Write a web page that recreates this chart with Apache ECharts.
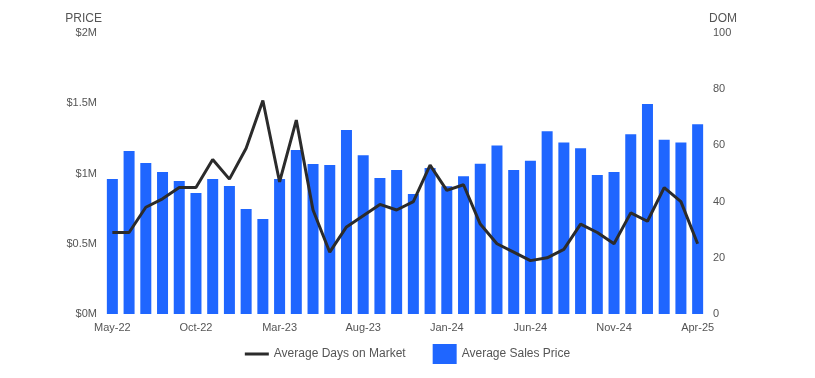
<!DOCTYPE html>
<html><head><meta charset="utf-8">
<script src="https://cdn.jsdelivr.net/npm/echarts@6/dist/echarts.min.js"></script>
<style>html,body{margin:0;padding:0;background:#fff}#c{width:815px;height:378px}</style>
</head><body><div id="c"></div>
<script>
const categories = ["May-22","Jun-22","Jul-22","Aug-22","Sep-22","Oct-22","Nov-22","Dec-22",
"Jan-23","Feb-23","Mar-23","Apr-23","May-23","Jun-23","Jul-23","Aug-23","Sep-23","Oct-23","Nov-23","Dec-23",
"Jan-24","Feb-24","Mar-24","Apr-24","May-24","Jun-24","Jul-24","Aug-24","Sep-24","Oct-24","Nov-24","Dec-24",
"Jan-25","Feb-25","Mar-25","Apr-25"];
const avgSalesPrice = [961000,1160000,1075000,1010000,947000,861000,961000,911000,
747000,676000,961000,1167000,1068000,1060000,1310000,1130000,968000,1025000,854000,1040000,
910000,980000,1070000,1200000,1025000,1090000,1300000,1220000,1180000,990000,1010000,1280000,
1495000,1240000,1220000,1350000];
const avgDaysOnMarket = [29,29,38,41,45,45,55,48,
59,76,47,69,37,22,31,35,39,37,40,53,
44,46,32,25,22,19,20,23,32,29,25,36,
33,45,40,25];
const priceTicks = {0:"$0M",500000:"$0.5M",1000000:"$1M",1500000:"$1.5M",2000000:"$2M"};

const chart = echarts.init(document.getElementById('c'));
const FF = 'Liberation Sans, Arial, sans-serif';
const small = {color:'#555', fontFamily:FF, fontSize:11};
const mid = {color:'#555', fontFamily:FF, fontSize:12};
const lineIcon = 'path://M0,0L0.05,0L0.05,0.05Z M0,8.5L24,8.5L24,11.5L0,11.5Z M24,20L23.95,20L23.95,19.95Z';
chart.setOption({
  animation:false,
  grid:{left:104, right:109, top:33, bottom:64},
  legend:{
    bottom:9, left:'center', itemGap:27, itemWidth:24, itemHeight:20,
    textStyle:mid,
    data:[{name:'Average Days on Market', icon:lineIcon},{name:'Average Sales Price', icon:'rect'}]
  },
  xAxis:{
    type:'category', data:categories,
    axisLine:{show:false}, axisTick:{show:false},
    axisLabel:Object.assign({interval:4, margin:8}, small)
  },
  yAxis:[{
    type:'value', min:0, max:2000000, interval:500000,
    name:'PRICE', nameLocation:'end', nameGap:8,
    nameTextStyle:Object.assign({}, mid, {align:'right', padding:[0,2,0,0]}),
    splitLine:{show:false}, axisLine:{show:false}, axisTick:{show:false},
    axisLabel:Object.assign({formatter:v=>priceTicks[v], margin:7}, small)
  },{
    type:'value', min:0, max:100, interval:20,
    name:'DOM', nameLocation:'end', nameGap:8,
    nameTextStyle:Object.assign({}, mid, {align:'left', padding:[0,0,0,3]}),
    splitLine:{show:false}, axisLine:{show:false}, axisTick:{show:false},
    axisLabel:Object.assign({margin:7}, small)
  }],
  series:[{
    name:'Average Sales Price', type:'bar', yAxisIndex:0, data:avgSalesPrice,
    barWidth:11, itemStyle:{color:'#1F66FF'}
  },{
    name:'Average Days on Market', type:'line', yAxisIndex:1, data:avgDaysOnMarket,
    symbol:'none', lineStyle:{color:'#2B2B2B', width:3}, itemStyle:{color:'#2B2B2B'}
  }]
});
</script></body></html>
